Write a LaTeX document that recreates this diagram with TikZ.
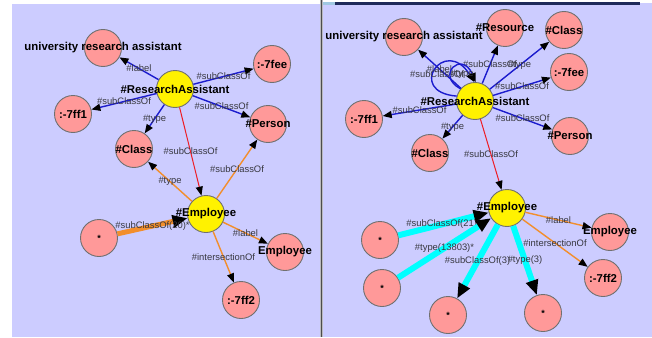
\documentclass[tikz,border=0pt]{standalone}
\usepackage{fontspec}
\setmainfont{Liberation Sans}
\usetikzlibrary{arrows.meta}

\definecolor{panelbg}{RGB}{204,204,255}
\definecolor{nodepink}{RGB}{255,153,153}
\definecolor{nodeedge}{RGB}{112,112,112}
\definecolor{relblue}{RGB}{28,28,205}
\definecolor{relred}{RGB}{238,28,36}
\definecolor{relorange}{RGB}{242,142,44}
\definecolor{relcyan}{RGB}{0,255,255}
\definecolor{lblgray}{RGB}{56,56,64}
\definecolor{barnavy}{RGB}{30,42,90}
\definecolor{barlight}{RGB}{160,200,225}
\definecolor{splitgray}{RGB}{140,140,150}

\tikzset{
  res/.style={circle, draw=nodeedge, line width=0.9pt, fill=nodepink,
              minimum size=37pt, inner sep=0pt},
  cls/.style={res, fill=yellow},
  nlabel/.style={font=\fontsize{11.4}{13}\selectfont\bfseries, text=black, inner sep=0pt},
  starmark/.style={font=\fontsize{9}{10}\selectfont\bfseries, text=black, inner sep=0pt},
  elbl/.style={font=\fontsize{9.4}{11}\selectfont, text=lblgray, inner sep=0pt},
  tip/.style={-{Triangle[length=9pt,width=7pt,color=black]}},
  bigtip/.style={-{Triangle[length=15pt,width=12pt,color=black]}},
  bluerel/.style={tip, draw=relblue, line width=1.4pt},
  redrel/.style={tip, draw=relred, line width=1pt},
  orangerel/.style={tip, draw=relorange, line width=1.4pt},
  orangebulk/.style={bigtip, draw=relorange, line width=5pt},
  cyanbulk/.style={bigtip, draw=relcyan, line width=6pt},
}

\begin{document}
\begin{tikzpicture}[x=1pt,y=-1pt]
\useasboundingbox (0,0) rectangle (652,337);

% panels and window chrome
\fill[white] (0,0) rectangle (652,337);
\fill[panelbg] (12,4) rectangle (319.5,337);
\fill[panelbg] (322.5,3) rectangle (652,337);
\fill[splitgray!60] (319.5,0) rectangle (322.5,337);
\fill[black!70] (320.6,0) rectangle (321.6,337);
\fill[barlight] (322.5,2.5) rectangle (335,5);
\fill[barnavy] (335,2.5) rectangle (640,5);

% ---------- left graph: resources ----------
\node[res] (uniL)    at (103,48)  {};
\node[res] (feeL)    at (272,64)  {};
\node[cls] (raL)     at (175,89)  {};
\node[res] (ff1L)    at (73,114)  {};
\node[res] (personL) at (268,124) {};
\node[res] (classL)  at (134,149) {};
\node[cls] (empL)    at (206,214) {};
\node[res] (starL)   at (99,238)  {};
\node[res] (emplitL) at (285,252) {};
\node[res] (ff2L)    at (241,300) {};

% ---------- left graph: relations ----------
\draw[bluerel] (raL) -- node[elbl] {\#label} (uniL);
\draw[bluerel] (raL) -- node[elbl] {\#subClassOf} (feeL);
\draw[bluerel] (raL) -- node[elbl] {\#subClassOf} (ff1L);
\draw[bluerel] (raL) -- node[elbl] {\#subClassOf} (personL);
\draw[bluerel] (raL) -- node[elbl] {\#type} (classL);
\draw[redrel] (raL) -- node[elbl] {\#subClassOf} (empL);
\draw[orangerel] (empL) -- node[elbl] {\#subClassOf} (personL);
\draw[orangerel] (empL) -- node[elbl] {\#type} (classL);
\draw[orangebulk] (starL) -- node[elbl] {\#subClassOf(20)*} (empL);
\draw[orangerel] (empL) -- node[elbl] {\#label} (emplitL);
\draw[orangerel] (empL) -- node[elbl] {\#intersectionOf} (ff2L);

% ---------- left graph: node names ----------
\node[nlabel] at (uniL)    {university research assistant};
\node[nlabel] at (feeL)    {:-7fee};
\node[nlabel] at (raL)     {\#ResearchAssistant};
\node[nlabel] at (ff1L)    {:-7ff1};
\node[nlabel] at (personL) {\#Person};
\node[nlabel] at (classL)  {\#Class};
\node[nlabel] at (empL)    {\#Employee};
\node[starmark] at (starL) {*};
\node[nlabel] at (emplitL) {Employee};
\node[nlabel] at (ff2L)    {:-7ff2};

% ---------- right graph: resources ----------
\node[res] (uniR)     at (404,37)  {};
\node[res] (resR)     at (505,28)  {};
\node[res] (classTR)  at (564,30)  {};
\node[res] (feeR)     at (569,72)  {};
\node[cls] (raR)      at (475,101) {};
\node[res] (ff1R)     at (364,119) {};
\node[res] (personR)  at (570,136) {};
\node[res] (classBR)  at (430,153) {};
\node[cls] (empR)     at (507,208) {};
\node[res] (emplitR)  at (610,232) {};
\node[res] (ff2R)     at (603,278) {};
\node[res] (s1)       at (380,240) {};
\node[res] (s2)       at (382,288) {};
\node[res] (s3)       at (448,315) {};
\node[res] (s4)       at (543,313) {};

% ---------- right graph: relations ----------
\draw[bluerel] (raR) -- node[elbl] {\#label} (uniR);
\draw[bluerel] (raR) -- node[elbl] {\#subClassOf} (resR);
\draw[bluerel] (raR) -- node[elbl] {\#type} (classTR);
\draw[bluerel] (raR) -- node[elbl] {\#subClassOf} (feeR);
\draw[bluerel] (raR) -- node[elbl] {\#subClassOf} (ff1R);
\draw[bluerel] (raR) -- node[elbl] {\#subClassOf} (personR);
\draw[bluerel] (raR) -- node[elbl] {\#type} (classBR);
% self relations of #ResearchAssistant
\draw[bluerel] (raR.165) .. controls (405,92) and (445,35) .. (raR.92)
  node[elbl] at (437,74) {\#subClassOf};
\draw[bluerel] (raR.140) .. controls (435,75) and (462,50) .. (raR.88)
  node[elbl] at (462,74) {\#type};
\draw[redrel] (raR) -- node[elbl] {\#subClassOf} (empR);
\draw[orangerel] (empR) -- node[elbl] {\#label} (emplitR);
\draw[orangerel] (empR) -- node[elbl] {\#intersectionOf} (ff2R);
\draw[cyanbulk] (s1) -- node[elbl] {\#subClassOf(21)*} (empR);
\draw[cyanbulk] (s2) -- node[elbl] {\#type(13803)*} (empR);
\draw[cyanbulk] (empR) -- node[elbl] {\#subClassOf(3)} (s3);
\draw[cyanbulk] (empR) -- node[elbl] {\#type(3)} (s4);

% ---------- right graph: node names ----------
\node[nlabel] at (uniR)    {university research assistant};
\node[nlabel] at (resR)    {\#Resource};
\node[nlabel] at (classTR) {\#Class};
\node[nlabel] at (feeR)    {:-7fee};
\node[nlabel] at (raR)     {\#ResearchAssistant};
\node[nlabel] at (ff1R)    {:-7ff1};
\node[nlabel] at (personR) {\#Person};
\node[nlabel] at (classBR) {\#Class};
\node[nlabel] at (empR)    {\#Employee};
\node[nlabel] at (emplitR) {Employee};
\node[nlabel] at (ff2R)    {:-7ff2};
\node[starmark] at (s1) {*};
\node[starmark] at (s2) {*};
\node[starmark] at (s3) {*};
\node[starmark] at (s4) {*};
\end{tikzpicture}
\end{document}
